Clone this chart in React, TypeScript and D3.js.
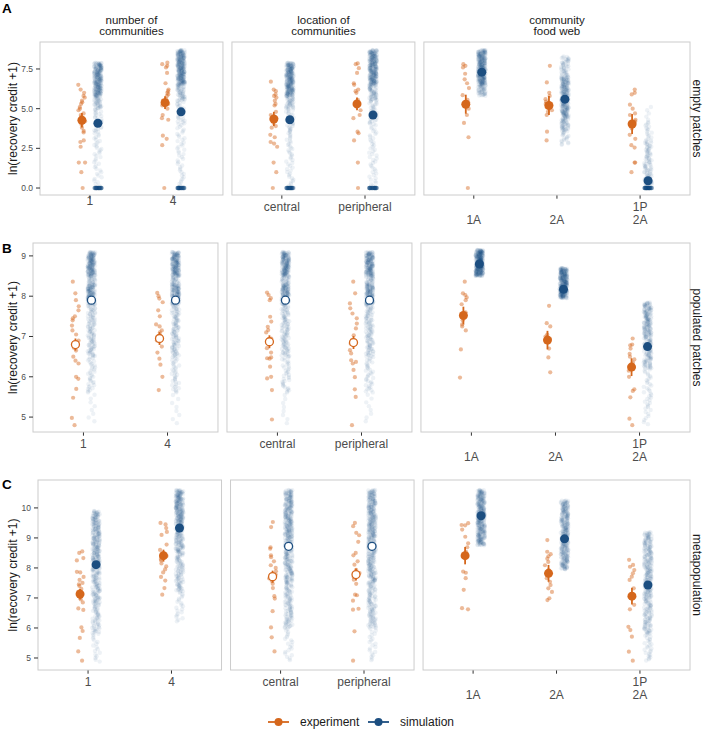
import React from "react";
import * as d3 from "d3";

const ORANGE = "#d5671c";
const BLUE = "#1c4e80";
const FONT = "'Liberation Sans', Arial, Helvetica, sans-serif";

// facet rows / columns
const rowTags = ["A", "B", "C"];
const rowLabels = ["empty patches", "populated patches", "metapopulation"];
const facetTitles = [["number of", "communities"], ["location of", "communities"], ["community", "food web"]];
const facetCats = [["1", "4"], ["central", "peripheral"], ["1A", "2A", "1P\n2A"]];
const groupStart = [0, 2, 4];

const yDomains = [[-0.44, 9.2], [4.63, 9.32], [4.6, 10.93]];
const yTicks = [[0, 2.5, 5, 7.5], [5, 6, 7, 8, 9], [5, 6, 7, 8, 9, 10]];

// open symbols mark facets without a significant difference
const hollowFacets = [[false, false, false], [true, true, false], [false, true, false]];

// experiment: one value per replicate, groups ordered 1, 4, central, peripheral, 1A, 2A, 1P2A
const expEmpty = [
  [6.5, 6.2, 6.0, 5.8, 5.7, 5.5, 5.4, 5.3, 5.1, 5.0, 4.9, 4.7, 4.6, 4.5, 4.3, 4.2, 4.0, 3.8, 3.6, 3.5, 3.0, 2.9, 2.6, 1.6, 1.6, 1.0, 0],
  [7.9, 7.8, 7.7, 7.6, 7.25, 6.6, 6.2, 6.1, 6.0, 5.9, 5.8, 5.6, 5.5, 5.3, 5.2, 5.0, 4.6, 4.4, 4.3, 3.3, 3.1, 2.7, 0],
  [6.7, 6.2, 6.1, 5.9, 5.8, 5.7, 5.5, 5.3, 5.2, 4.8, 4.6, 4.4, 4.1, 3.9, 3.8, 3.35, 3.2, 2.9, 2.8, 2.6, 1.6, 1.0, 0],
  [7.85, 7.8, 7.55, 7.25, 6.6, 6.5, 6.2, 6.1, 6.0, 5.55, 5.4, 5.15, 4.9, 4.6, 4.4, 3.55, 3.45, 3.0, 1.6, 0],
  [7.8, 7.7, 7.6, 7.2, 6.85, 6.6, 6.3, 5.85, 5.55, 5.4, 5.2, 5.0, 4.6, 4.1, 3.2, 0],
  [7.7, 6.65, 6.0, 5.8, 5.6, 5.45, 5.3, 5.1, 4.9, 4.8, 4.6, 3.55, 3.0],
  [6.2, 6.0, 5.9, 5.25, 5.0, 4.7, 4.6, 4.3, 4.2, 3.75, 3.35, 3.1, 2.7, 2.55, 1.6, 1.6, 1.0],
];
const expPopulated = [
  [8.36, 8.07, 7.9, 7.75, 7.65, 7.5, 7.45, 7.4, 7.27, 7.15, 7.05, 6.9, 6.8, 6.72, 6.65, 6.5, 6.4, 6.33, 6.0, 5.95, 5.7, 5.48, 4.98, 4.8],
  [8.08, 8.0, 7.94, 7.85, 7.65, 7.5, 7.3, 7.25, 7.15, 7.1, 7.0, 6.9, 6.75, 6.6, 6.45, 6.3, 6.0, 5.67],
  [8.09, 8.03, 7.95, 7.9, 7.49, 7.37, 7.24, 7.16, 7.1, 6.95, 6.9, 6.71, 6.6, 6.48, 6.46, 6.45, 6.25, 6.0, 5.96, 5.67, 4.94],
  [8.36, 8.07, 7.82, 7.7, 7.57, 7.45, 7.32, 7.2, 7.03, 6.91, 6.82, 6.66, 6.58, 6.41, 6.37, 6.33, 6.17, 5.99, 5.69, 5.5, 4.8],
  [8.36, 8.07, 8.03, 7.97, 7.9, 7.8, 7.6, 7.55, 7.4, 7.3, 7.25, 7.15, 6.68, 5.98],
  [7.76, 7.33, 7.25, 7.05, 7.0, 6.95, 6.9, 6.85, 6.7, 6.48, 6.11],
  [6.95, 6.8, 6.78, 6.7, 6.57, 6.5, 6.43, 6.35, 6.2, 6.15, 6.0, 5.69, 5.65, 5.49, 4.96, 4.8],
];
const expMeta = [
  [8.55, 8.5, 8.33, 8.25, 7.87, 7.85, 7.7, 7.6, 7.5, 7.45, 7.4, 7.3, 7.2, 7.1, 7.0, 6.95, 6.85, 6.65, 6.6, 6.02, 5.9, 5.67, 5.22, 4.91],
  [9.5, 9.45, 9.33, 9.2, 9.1, 8.78, 8.6, 8.5, 8.4, 8.3, 8.25, 8.15, 8.05, 7.95, 7.85, 7.7, 7.58, 7.33, 7.11],
  [9.53, 9.36, 8.69, 8.64, 8.42, 8.36, 8.22, 8.09, 8.0, 7.89, 7.78, 7.65, 7.56, 7.47, 7.33, 7.06, 6.98, 6.56, 6.02, 5.69, 5.22],
  [9.5, 9.39, 9.17, 9.09, 8.87, 8.5, 8.42, 8.22, 8.11, 7.94, 7.83, 7.7, 7.61, 7.47, 7.11, 7.09, 6.91, 6.64, 6.61, 5.89, 4.91],
  [9.49, 9.43, 9.42, 9.28, 9.04, 8.82, 8.69, 8.54, 8.4, 7.88, 7.84, 7.66, 7.27, 6.66, 6.62],
  [8.93, 8.54, 8.46, 8.39, 8.31, 8.2, 8.09, 7.93, 7.82, 7.66, 7.54, 7.43, 7.32, 7.2, 6.99, 6.93],
  [8.27, 8.1, 8.04, 7.93, 7.82, 7.71, 7.6, 7.32, 7.1, 6.77, 6.62, 6.04, 5.93, 5.71, 5.21, 4.91],
];

const expMeanEmpty = [4.27, 5.38, 4.35, 5.3, 5.28, 5.2, 4.03];
const expSeEmpty = [0.46, 0.4, 0.45, 0.4, 0.6, 0.6, 0.63];
const expMeanPopulated = [6.8, 6.95, 6.87, 6.85, 7.52, 6.91, 6.24];
const expSePopulated = [0.15, 0.16, 0.16, 0.16, 0.22, 0.23, 0.22];
const expMeanMeta = [7.13, 8.41, 7.71, 7.78, 8.41, 7.82, 7.06];
const expSeMeta = [0.17, 0.2, 0.2, 0.2, 0.29, 0.28, 0.28];

const simMeanEmpty = [4.08, 4.8, 4.3, 4.6, 7.3, 5.6, 0.46];
const simMeanPopulated = [7.9, 7.9, 7.9, 7.9, 8.8, 8.17, 6.75];
const simMeanMeta = [8.11, 9.33, 8.72, 8.72, 9.74, 8.97, 7.43];

// simulation runs, summarised as [from, to, number of runs] bands
const simEmpty = [
  [[0, 0, 90], [0.1, 2, 18], [2, 3.5, 18], [3.5, 5, 28], [5, 5.8, 35], [5.8, 7.9, 220]],
  [[0, 0, 90], [0.1, 2, 18], [2, 4, 22], [4, 5.5, 28], [5.5, 6.5, 45], [6.5, 8.7, 250]],
  [[0, 0, 90], [0.1, 2, 20], [2, 3.5, 18], [3.5, 5, 28], [5, 5.8, 35], [5.8, 7.9, 230]],
  [[0, 0, 90], [0.1, 2, 20], [2, 4, 22], [4, 5.5, 32], [5.5, 6.5, 50], [6.5, 8.7, 240]],
  [[5.8, 6.5, 40], [6.5, 8.7, 260]],
  [[2.7, 3.6, 18], [3.6, 4.5, 45], [4.5, 7, 200], [7, 8.3, 45]],
  [[0, 0, 110], [0.1, 1.5, 45], [1.5, 3, 40], [3, 4.2, 16], [4.2, 5.2, 5]],
];
const simPopulated = [
  [[4.85, 5.6, 8], [5.6, 6.5, 35], [6.5, 7.8, 100], [7.8, 8.3, 110], [8.3, 8.5, 22], [8.5, 9.1, 150]],
  [[4.8, 5.6, 8], [5.6, 6.5, 35], [6.5, 7.8, 100], [7.8, 8.3, 110], [8.3, 8.5, 22], [8.5, 9.1, 150]],
  [[4.8, 5.6, 8], [5.6, 6.5, 35], [6.5, 7.8, 100], [7.8, 8.3, 110], [8.3, 8.5, 22], [8.5, 9.1, 150]],
  [[4.85, 5.6, 8], [5.6, 6.5, 35], [6.5, 7.8, 100], [7.8, 8.3, 110], [8.3, 8.5, 22], [8.5, 9.1, 150]],
  [[8.5, 9.15, 280]],
  [[7.95, 8.7, 280]],
  [[4.8, 5.2, 8], [5.2, 6.2, 30], [6.2, 7.0, 85], [7.0, 7.85, 130]],
];
const simMeta = [
  [[4.85, 5.8, 16], [5.8, 6.8, 50], [6.8, 8, 90], [8, 9.9, 210]],
  [[6.2, 7.2, 20], [7.2, 8.5, 80], [8.5, 9.5, 100], [9.5, 10.6, 170]],
  [[4.9, 6, 20], [6, 7.5, 90], [7.5, 9, 140], [9, 10.6, 200]],
  [[4.9, 6, 20], [6, 7.5, 90], [7.5, 9, 140], [9, 10.6, 200]],
  [[8.75, 10.6, 300]],
  [[7.95, 10.25, 300]],
  [[4.9, 5.8, 25], [5.8, 7, 80], [7, 9.2, 200]],
];

const expRows = [expEmpty, expPopulated, expMeta];
const expMeanRows = [expMeanEmpty, expMeanPopulated, expMeanMeta];
const expSeRows = [expSeEmpty, expSePopulated, expSeMeta];
const simRows = [simEmpty, simPopulated, simMeta];
const simMeanRows = [simMeanEmpty, simMeanPopulated, simMeanMeta];

// row frames
const rowFrames = [
  { left: 40, top: 42, bottom: 195, tagY: 13 },
  { left: 33, top: 243, bottom: 432, tagY: 253 },
  { left: 38, top: 480, bottom: 670, tagY: 489 },
];
const RIGHT = 690;
const GAP = 9;
const DODGE = 8;

// deterministic jitter
const jit = (a: number, b: number) => {
  const s = Math.sin(a * 127.1 + b * 311.7) * 43758.5453;
  return s - Math.floor(s);
};

const Row: React.FC<{ r: number }> = ({ r }) => {
  const f = rowFrames[r];
  const units = facetCats.map((c) => c.length - 1 + 1.2);
  const unit = (RIGHT - f.left - GAP * (facetCats.length - 1)) / d3.sum(units);
  const y = d3.scaleLinear().domain(yDomains[r]).range([f.bottom, f.top]);
  const fmt = r === 0 ? d3.format(".1f") : d3.format("d");
  const mid = (f.top + f.bottom) / 2;

  let x0 = f.left;
  const panels = facetCats.map((cats, p) => {
    const w = units[p] * unit;
    const x = d3.scalePoint<string>().domain(cats).range([x0, x0 + w]).padding(0.6);
    const px = x0;
    x0 += w + GAP;
    const hollow = hollowFacets[r][p];
    const twoLine = cats.some((c) => c.includes("\n"));
    // the numeric labels of the first panel in row A sit a little higher
    const labelY = r === 0 && p === 0 ? f.bottom + 10 : f.bottom + 16;

    return (
      <g key={p}>
        <rect x={px} y={f.top} width={w} height={f.bottom - f.top} fill="#fff" />
        {cats.map((c, ci) => {
          const g = groupStart[p] + ci;
          const cx = x(c)!;
          const ex = cx - DODGE;
          const sx = cx + DODGE;
          const sims: JSX.Element[] = [];
          simRows[r][g].forEach(([lo, hi, n], bi) => {
            for (let k = 0; k < n; k++) {
              const v = hi > lo ? lo + ((hi - lo) * (k + 0.5)) / n : lo;
              sims.push(
                <circle
                  key={`s${bi}-${k}`}
                  cx={sx + (jit(k + bi * 1000, g + r * 10 + 50) - 0.5) * 7.6}
                  cy={y(v)}
                  r={2.2}
                  fill={BLUE}
                  fillOpacity={0.075}
                />
              );
            }
          });
          const em = expMeanRows[r][g];
          const se = expSeRows[r][g];
          const sm = simMeanRows[r][g];
          return (
            <g key={c}>
              {expRows[r][g].map((v, i) => (
                <circle
                  key={`e${i}`}
                  cx={ex + (jit(i, g + r * 10) - 0.5) * 7.2}
                  cy={y(v)}
                  r={2.1}
                  fill={ORANGE}
                  fillOpacity={0.45}
                />
              ))}
              {sims}
              <line x1={ex} x2={ex} y1={y(em - se)} y2={y(em + se)} stroke={ORANGE} strokeWidth={1.8} />
              <circle
                cx={ex}
                cy={y(em)}
                r={hollow ? 4 : 4.5}
                fill={hollow ? "#fff" : ORANGE}
                stroke={ORANGE}
                strokeWidth={hollow ? 1.3 : 0}
              />
              <circle
                cx={sx}
                cy={y(sm)}
                r={hollow ? 4 : 4.5}
                fill={hollow ? "#fff" : BLUE}
                stroke={BLUE}
                strokeWidth={hollow ? 1.3 : 0}
              />
              <line x1={cx} x2={cx} y1={f.bottom} y2={f.bottom + 3.7} stroke="#333" strokeWidth={1} />
              {c.split("\n").map((line, li, arr) => {
                const lineIdx = twoLine && arr.length === 1 ? 1 : li;
                return (
                  <text
                    key={li}
                    x={cx}
                    y={labelY + lineIdx * 13}
                    textAnchor="middle"
                    fontSize={12}
                    fill="#4d4d4d"
                  >
                    {line}
                  </text>
                );
              })}
            </g>
          );
        })}
        <rect
          x={px}
          y={f.top}
          width={w}
          height={f.bottom - f.top}
          fill="none"
          stroke="#cccccc"
          strokeWidth={1}
        />
        {r === 0 &&
          facetTitles[p].map((t, ti) => (
            <text key={ti} x={px + w / 2} y={24 + ti * 11} textAnchor="middle" fontSize={11.5} fill="#1a1a1a">
              {t}
            </text>
          ))}
      </g>
    );
  });

  return (
    <g>
      {panels}
      {yTicks[r].map((t) => (
        <g key={t}>
          <line x1={f.left - 4} x2={f.left} y1={y(t)} y2={y(t)} stroke="#333" strokeWidth={1} />
          <text x={f.left - 7} y={y(t)} dy="0.35em" textAnchor="end" fontSize={8.5} fill="#4d4d4d">
            {fmt(t)}
          </text>
        </g>
      ))}
      <text
        transform={`translate(13,${mid}) rotate(-90)`}
        textAnchor="middle"
        dy="0.35em"
        fontSize={12}
        fill="#1a1a1a"
      >
        ln(recovery credit +1)
      </text>
      <text
        transform={`translate(697,${mid}) rotate(90)`}
        textAnchor="middle"
        dy="0.35em"
        fontSize={12}
        fill="#1a1a1a"
      >
        {rowLabels[r]}
      </text>
      <text x={2} y={f.tagY} fontSize={13.5} fontWeight="bold" fill="#000">
        {rowTags[r]}
      </text>
    </g>
  );
};

const legendItems = [
  { label: "experiment", color: ORANGE, x: 268 },
  { label: "simulation", color: BLUE, x: 368 },
];

export default function App() {
  return (
    <div style={{ position: "absolute", left: 0, top: 0 }}>
      <svg width={709} height={740} style={{ display: "block", fontFamily: FONT }}>
        <rect width={709} height={740} fill="#fff" />
        {rowFrames.map((_, r) => (
          <Row key={r} r={r} />
        ))}
        <g transform="translate(0,722)">
          {legendItems.map((d) => (
            <g key={d.label}>
              <line x1={d.x} x2={d.x + 21} y1={0} y2={0} stroke={d.color} strokeWidth={1.8} />
              <circle cx={d.x + 10.5} cy={0} r={4} fill={d.color} />
              <text x={d.x + 32} y={0} dy="0.35em" fontSize={12} fill="#1a1a1a">
                {d.label}
              </text>
            </g>
          ))}
        </g>
      </svg>
    </div>
  );
}
